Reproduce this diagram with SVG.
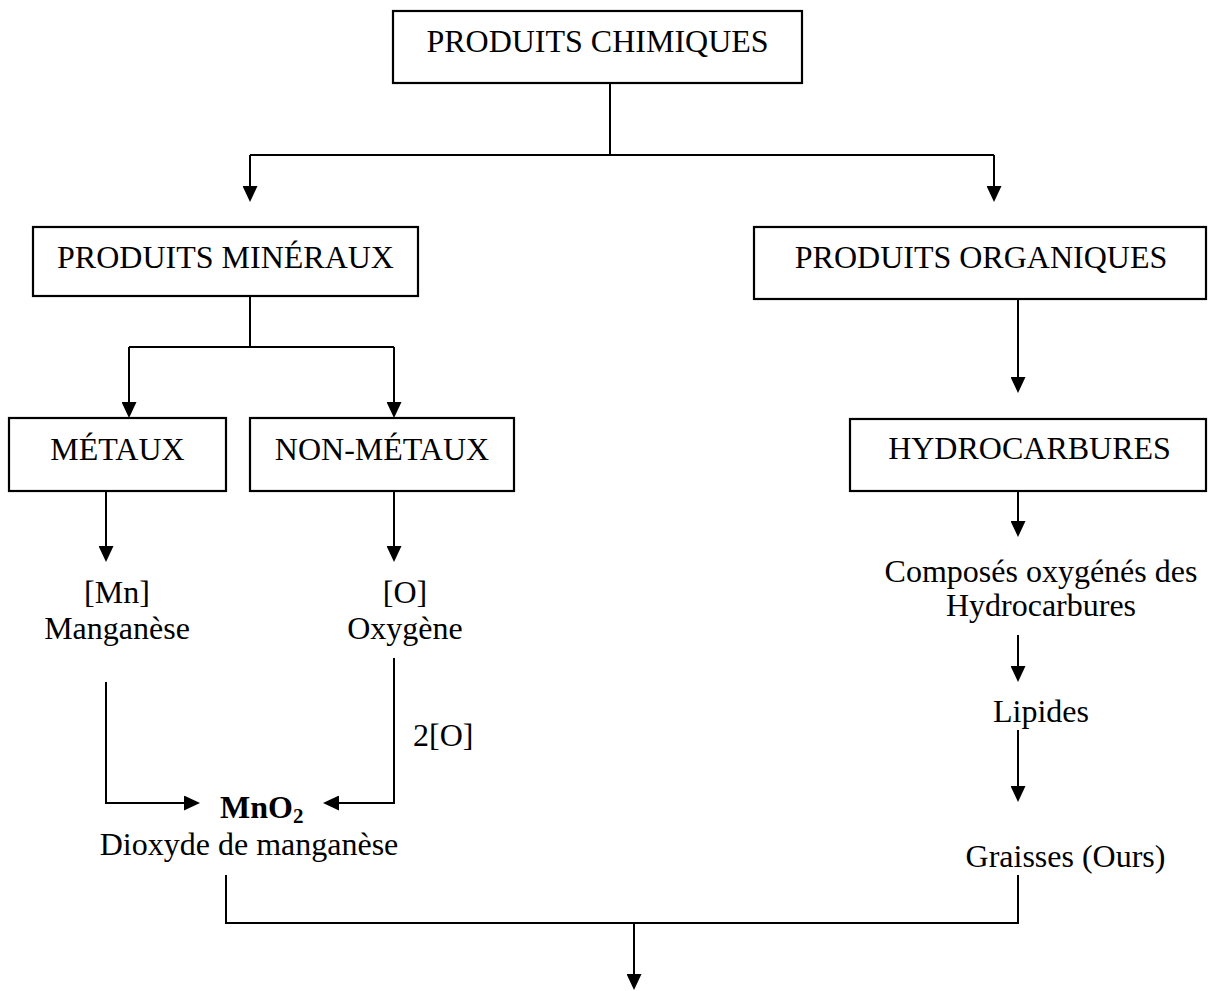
<svg xmlns="http://www.w3.org/2000/svg" width="1208" height="991" viewBox="0 0 1208 991">
  <style>
    .box { fill: #ffffff; stroke: #000000; stroke-width: 2.2; }
    .lbl { font-family: "Liberation Serif", "Times New Roman", serif; font-size: 32px; fill: #000000; text-anchor: middle; }
    .wire { fill: none; stroke: #000000; stroke-width: 2; }
    .arrow { marker-end: url(#head); }
  </style>
  <defs>
    <marker id="head" viewBox="0 0 16 15" refX="8" refY="7.5" markerWidth="16" markerHeight="15" markerUnits="userSpaceOnUse" orient="auto">
      <path d="M0,0 L16,7.5 L0,15 z" fill="#000000"/>
    </marker>
  </defs>
  <rect width="1208" height="991" fill="#ffffff"/>

  <!-- connectors -->
  <g id="connectors">
    <!-- root split -->
    <path class="wire" d="M610,83 V155"/>
    <path class="wire arrow" d="M250,155 H994 M250,155 V194"/>
    <path class="wire arrow" d="M994,155 V194"/>
    <!-- mineral split -->
    <path class="wire" d="M250,296 V347 M129,347 H394"/>
    <path class="wire arrow" d="M129,347 V410"/>
    <path class="wire arrow" d="M394,347 V410"/>
    <!-- metals / non-metals to elements -->
    <path class="wire arrow" d="M106,491 V554"/>
    <path class="wire arrow" d="M394,491 V554"/>
    <!-- elements to MnO2 -->
    <path class="wire arrow" d="M106,682 V803 H192"/>
    <path class="wire arrow" d="M394,658 V803 H331"/>
    <!-- organic branch -->
    <path class="wire arrow" d="M1018,299 V385"/>
    <path class="wire arrow" d="M1018,491 V529"/>
    <path class="wire arrow" d="M1018,635 V674"/>
    <path class="wire arrow" d="M1018,730 V794"/>
    <!-- merge at bottom -->
    <path class="wire" d="M226,875 V923 H1018 V875"/>
    <path class="wire arrow" d="M634,923 V982"/>
  </g>

  <g id="produits-chimiques">
    <rect class="box" x="393" y="11" width="409" height="72"/>
    <text class="lbl" x="597.5" y="52">PRODUITS CHIMIQUES</text>
  </g>

  <g id="produits-mineraux">
    <rect class="box" x="33" y="227" width="385" height="69"/>
    <text class="lbl" x="225.5" y="268">PRODUITS MINÉRAUX</text>
  </g>

  <g id="produits-organiques">
    <rect class="box" x="754" y="227" width="452" height="72"/>
    <text class="lbl" x="981" y="268">PRODUITS ORGANIQUES</text>
  </g>

  <g id="metaux">
    <rect class="box" x="9" y="418" width="217" height="73"/>
    <text class="lbl" x="117.5" y="460">MÉTAUX</text>
  </g>

  <g id="non-metaux">
    <rect class="box" x="250" y="418" width="264" height="73"/>
    <text class="lbl" x="382" y="460">NON-MÉTAUX</text>
  </g>

  <g id="hydrocarbures">
    <rect class="box" x="850" y="419" width="356" height="72"/>
    <text class="lbl" x="1029.5" y="459">HYDROCARBURES</text>
  </g>

  <g id="manganese">
    <text class="lbl" x="117" y="603">[Mn]</text>
    <text class="lbl" x="117" y="639">Manganèse</text>
  </g>

  <g id="oxygene">
    <text class="lbl" x="405" y="603">[O]</text>
    <text class="lbl" x="405" y="639">Oxygène</text>
  </g>

  <g id="label-2o">
    <text class="lbl" x="413" y="746" style="text-anchor:start">2[O]</text>
  </g>

  <g id="mno2">
    <text class="lbl" x="220" y="818" style="text-anchor:start;font-weight:bold">MnO<tspan font-size="21" dy="5">2</tspan></text>
    <text class="lbl" x="249" y="855">Dioxyde de manganèse</text>
  </g>

  <g id="composes-oxygenes">
    <text class="lbl" x="1041" y="582">Composés oxygénés des</text>
    <text class="lbl" x="1041" y="616">Hydrocarbures</text>
  </g>

  <g id="lipides">
    <text class="lbl" x="1041" y="722">Lipides</text>
  </g>

  <g id="graisses">
    <text class="lbl" x="1065.5" y="867">Graisses (Ours)</text>
  </g>
</svg>
